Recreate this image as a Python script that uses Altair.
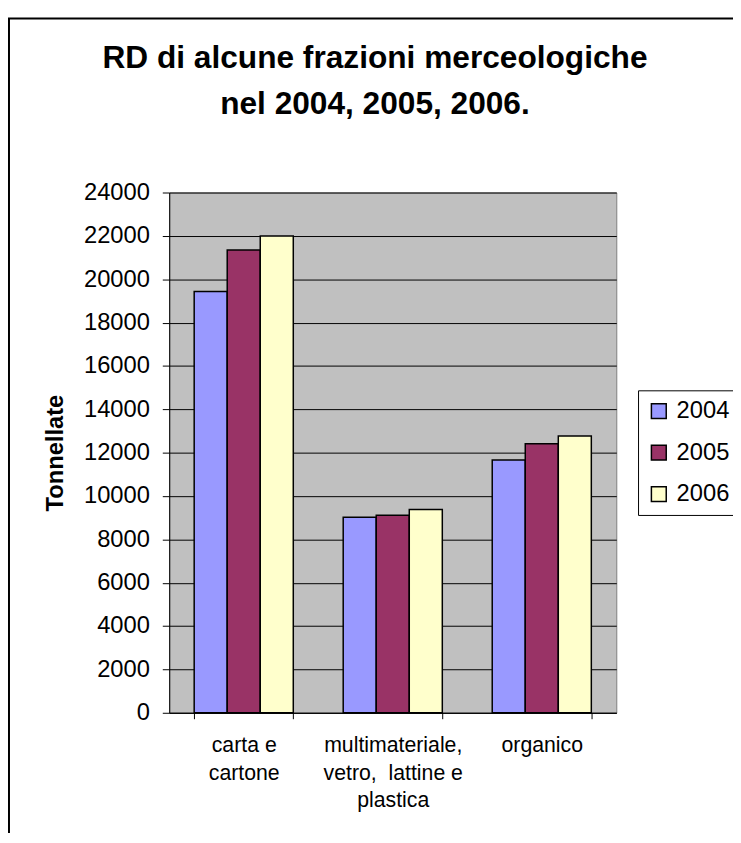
import altair as alt
import pandas as pd

categories = ["carta e|cartone", "multimateriale,|vetro,\u00a0 lattine e|plastica", "organico"]
years = ["2004", "2005", "2006"]
values_2004 = [19430, 9020, 11660]
values_2005 = [21350, 9110, 12410]
values_2006 = [21990, 9380, 12770]
y_ticks = list(range(0, 24001, 2000))
colors = ["#9999FF", "#993366", "#FFFFCC"]
title_lines = ["RD di alcune frazioni merceologiche", "nel 2004, 2005, 2006."]

rows = []
for year, vals in zip(years, [values_2004, values_2005, values_2006]):
    for c, v in zip(categories, vals):
        rows.append({"cat": c, "year": year, "value": v})
df = pd.DataFrame(rows)

FONT = "Liberation Sans"

bars = alt.Chart(df).mark_bar(stroke="black", strokeWidth=1.5, opacity=1).encode(
    x=alt.X(
        "cat:N",
        sort=categories,
        scale=alt.Scale(paddingInner=0.335, paddingOuter=0.1675),
        axis=alt.Axis(
            title=None, labelAngle=0, labelExpr="split(datum.label, '|')",
            tickBand="extent", labelFontSize=21.5, labelLineHeight=28,
            tickSize=6, labelPadding=16, grid=False, labelFont=FONT,
            domainColor="black", tickColor="black", labelColor="black",
            labelBaseline="top",
        ),
    ),
    xOffset=alt.XOffset("year:N", sort=years, scale=alt.Scale(paddingInner=0, paddingOuter=0)),
    y=alt.Y(
        "value:Q",
        scale=alt.Scale(domain=[0, 24000], nice=False),
        axis=alt.Axis(
            title="Tonnellate", values=y_ticks, format="d", grid=True, gridColor="black",
            gridWidth=1, gridOpacity=1, labelFontSize=24, labelFont=FONT,
            labelPadding=13, tickSize=7, tickColor="black", domainColor="black",
            labelColor="black", titleFontSize=24, titleFont=FONT,
            titleFontWeight="bold", titleColor="black", titlePadding=16,
        ),
    ),
    color=alt.Color(
        "year:N",
        scale=alt.Scale(domain=years, range=colors),
        legend=alt.Legend(
            title=None, orient="none", legendX=474, legendY=200,
            strokeColor="black", padding=9, fillColor="white",
            symbolType="square", symbolSize=225, symbolStrokeColor="black",
            symbolStrokeWidth=1.5, symbolOpacity=1, labelFontSize=24,
            labelFont=FONT, labelColor="black", rowPadding=18, labelOffset=6,
        ),
    ),
)

border = alt.Chart(pd.DataFrame({"k": [0]})).mark_rect(
    fillOpacity=0, stroke="black", strokeWidth=2
).encode(
    x=alt.value(-162), x2=alt.value(700), y=alt.value(-176), y2=alt.value(800)
)

chart = alt.layer(border, bars).properties(
    width=452,
    height=526,
    autosize=alt.AutoSizeParams(type="none"),
    padding={"left": 163, "top": 182, "right": 118, "bottom": 117},
    title=alt.TitleParams(
        text=title_lines, fontSize=32, font=FONT, fontWeight="bold",
        lineHeight=47, anchor="middle", frame="group", dx=-18, offset=-105,
        color="black",
    ),
).configure(background="white").configure_view(
    fill="#C0C0C0", stroke="#808080", strokeWidth=1
)

chart.save("out.html", embed_options={"renderer": "svg", "actions": False})
